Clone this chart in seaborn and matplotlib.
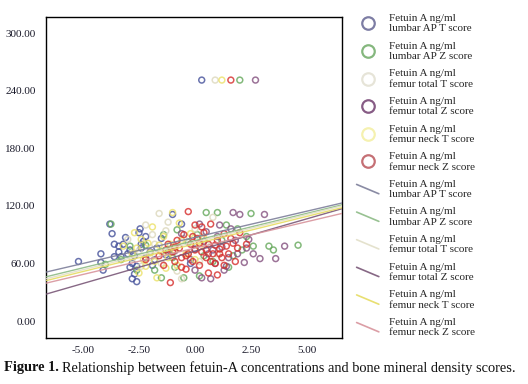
import matplotlib
matplotlib.use("Agg")
from matplotlib import pyplot as plt
from matplotlib.lines import Line2D
from matplotlib.legend_handler import HandlerLine2D
import pandas as pd
import seaborn as sns

# series names (legend labels)
series = ["lumbar AP T score", "lumbar AP Z score", "femur total T score",
          "femur total Z score", "femur neck T score", "femur neck Z score"]

# scatter colours / line colours, same order as series
point_colors = ["#44509a", "#64a85a", "#dcd8bc", "#83507e", "#ece168", "#d62c2a"]
line_colors = ["#7d7f9a", "#8dbb86", "#e2dfc8", "#7a5878", "#e6dc62", "#d8949c"]

# bone score (x) and fetuin A ng/ml (y)
lumbar_t_x = [-5.2, -4.2, -4.1, -4.2, -3.8, -3.7, -3.6, -3.4, -3.3, -3.2, -3.0,
              -2.9, -2.8, -2.8, -2.7, -2.6, -2.5, -2.45, -2.4, -2.3, -2.2, -2.0,
              -1.9, -1.7, -1.5, -1.3, -1.0, -0.6, 0.3, -0.2, 0.0, -3.6, -2.9,
              -2.6, -3.1, -2.2, -1.8, -3.4, -2.7, -2.4]
lumbar_t_y = [62, 70, 53, 61, 101, 91, 80, 78, 67, 80, 70,
              74, 60, 44, 49, 57, 92, 96, 76, 83, 66, 72,
              58, 76, 86, 69, 111, 101, 251, 60, 75, 67, 56,
              41, 87, 88, 64, 72, 68, 80]

lumbar_z_x = [-3.75, -4.0, -2.6, -1.8, -1.5, -1.4, -0.9, -0.5, 0.2, 0.5, 1.0,
              1.4, 1.9, 2.5, 2.6, 3.3, 3.5, 4.6, -2.2, -1.2, -0.3, 0.4, 0.8,
              1.2, 1.7, 2.1, 2.0, -0.8, -2.9, -1.0, 0.1, 1.5, 2.3, -3.3]
lumbar_z_y = [101, 59, 53, 53, 45, 90, 56, 45, 47, 113, 113,
              100, 96, 112, 78, 78, 74, 79, 79, 72, 82, 68, 62,
              84, 68, 74, 251, 95, 78, 66, 90, 56, 88, 64]

total_t_x = [-3.0, -2.5, -2.2, -2.0, -1.8, -1.5, -1.3, -1.0, -0.8, -0.5, -0.3,
             0.0, 0.2, 0.5, 0.8, 1.0, -1.6, -2.4, -0.6, 0.9, -1.2, 0.3, -2.8,
             -1.9]
total_t_y = [85, 73, 100, 66, 80, 60, 94, 77, 52, 86, 70,
             96, 62, 80, 108, 70, 112, 57, 44, 251, 103, 88, 65,
             90]

total_z_x = [-0.6, 0.0, 0.2, 0.4, 0.6, 0.7, 0.9, 1.0, 1.2, 1.3, 1.5, 1.6, 1.7,
             1.8, 1.9, 2.0, 2.2, 2.3, 2.6, 2.9, 3.1, 3.6, 4.0, 2.7, 0.3, 1.1,
             -0.2, 0.8, 1.4, 2.4, -0.9, 0.5]
total_z_y = [91, 53, 101, 83, 70, 44, 60, 88, 77, 53, 66, 96, 113,
             84, 70, 111, 61, 76, 70, 65, 111, 65, 78, 251, 45, 100,
             64, 74, 57, 85, 73, 93]

neck_t_x = [-3.2, -2.8, -2.6, -2.4, -2.3, -2.1, -2.0, -1.9, -1.8, -1.6, -1.5,
            -1.4, -1.2, -1.1, -1.0, -0.9, -0.8, -0.6, -0.4, -0.2, 0.0, 0.2,
            -2.5, -1.7, 1.2, -2.7, -1.3, -0.7, 0.4, -2.2]
neck_t_y = [78, 70, 76, 85, 64, 81, 71, 98, 62, 79, 72,
            88, 66, 80, 113, 74, 58, 84, 70, 91, 64, 77,
            50, 45, 251, 92, 55, 102, 86, 57]

neck_z_x = [-1.6, -1.4, -1.2, -1.1, -1.0, -0.9, -0.8, -0.7, -0.6, -0.5, -0.4,
            -0.3, -0.2, -0.1, 0.0, 0.0, 0.1, 0.2, 0.3, 0.4, 0.5, 0.6, 0.7,
            0.8, 0.9, 1.0, 1.1, 1.2, 1.3, 1.4, 1.5, 1.6, 1.8, 1.9, 2.0, 2.3,
            -0.3, 1.6, -2.2, 0.6, 1.0, -0.6, 0.3, 1.3, -0.9, -0.4, 0.2, 0.5,
            0.9, 1.1, -1.3, -0.1, 0.7, 1.7]
neck_z_y = [68, 58, 80, 40, 72, 62, 84, 76, 66, 90, 54,
            70, 80, 62, 100, 74, 86, 58, 72, 92, 66, 80, 101,
            70, 60, 84, 75, 66, 91, 78, 70, 86, 62, 76, 92, 80,
            114, 251, 64, 50, 48, 56, 98, 58, 77, 68, 81, 74,
            79, 70, 74, 88, 62, 81]

# fit lines (intercept, slope)
line_intercepts = [87.2, 83.8, 82.2, 72.8, 80.3, 76.0]
line_slopes = [5.45, 5.68, 5.75, 6.74, 5.75, 5.5]

xs = [lumbar_t_x, lumbar_z_x, total_t_x, total_z_x, neck_t_x, neck_z_x]
ys = [lumbar_t_y, lumbar_z_y, total_t_y, total_z_y, neck_t_y, neck_z_y]

df = pd.concat([pd.DataFrame({"score": x, "fetuin": y, "series": s})
                for x, y, s in zip(xs, ys, series)], ignore_index=True)


class SlantedLineHandler(HandlerLine2D):
    # SPSS-style legend entries: short line going down to the right
    def create_artists(self, legend, orig_handle, xdescent, ydescent,
                       width, height, fontsize, trans):
        line = Line2D([-xdescent, -xdescent + width],
                      [height * 1.1, -height * 0.1],
                      color=orig_handle.get_color(),
                      lw=orig_handle.get_linewidth(), alpha=0.9)
        line.set_transform(trans)
        return [line]


sns.set_style("white")
plt.rcParams["font.family"] = ["Liberation Serif", "DejaVu Serif"]

fig = plt.figure(figsize=(5.28, 3.84), dpi=100)
ax = fig.add_axes([0.0871, 0.1198, 0.5606, 0.8359])

for s, c in zip(series, point_colors):
    sub = df[df["series"] == s]
    sns.scatterplot(data=sub, x="score", y="fetuin", ax=ax, s=18,
                    linewidth=1.1, legend=False, zorder=2)
    coll = ax.collections[-1]
    coll.set_facecolor("none")
    coll.set_edgecolor(c)
    coll.set_alpha(0.8)

for b, m, c in zip(line_intercepts, line_slopes, line_colors):
    ax.axline((0, b), slope=m, color=c, lw=1.0, alpha=0.9, zorder=3)

ax.set_xlim(-6.65, 6.56)
ax.set_ylim(-17.7, 316.7)
ax.set_xticks([-5, -2.5, 0, 2.5, 5])
ax.set_yticks([0, 60, 120, 180, 240, 300])
ax.xaxis.set_major_formatter(matplotlib.ticker.FormatStrFormatter("%.2f"))
ax.yaxis.set_major_formatter(matplotlib.ticker.FormatStrFormatter("%.2f"))
ax.set_xlabel("")
ax.set_ylabel("")
ax.tick_params(axis="both", labelsize=8, length=4, width=1,
               direction="out", colors="black", labelcolor="#1a1a2a")
ax.tick_params(axis="x", length=0, pad=6)
for sp in ax.spines.values():
    sp.set_visible(True)
    sp.set_color("black")
    sp.set_linewidth(1.0)

# legend: circles for points, slanted lines for fits
handles, labels = [], []
legend_point_colors = ["#6f6f9a", "#78b070", "#e4e2d4", "#7a4a78", "#f4f0a8", "#bf6066"]
for s, c in zip(series, legend_point_colors):
    handles.append(Line2D([], [], ls="none", marker="o", markersize=9,
                          markerfacecolor="none", markeredgecolor=c,
                          markeredgewidth=1.6, alpha=0.9))
    labels.append("Fetuin A ng/ml\n" + s)
for s, c in zip(series, line_colors):
    handles.append(Line2D([], [], color=c, lw=1.2))
    labels.append("Fetuin A ng/ml\n" + s)

fig.legend(handles, labels, loc="upper left", bbox_to_anchor=(0.667, 0.975),
           frameon=False, fontsize=8, handlelength=2.0, handletextpad=0.9,
           labelspacing=0.74, borderaxespad=0,
           handler_map={handles[6 + i]: SlantedLineHandler() for i in range(6)})

# caption with bold "Figure 1."
renderer = fig.canvas.get_renderer()
t1 = fig.text(0.008, 0.042, "Figure 1.", fontsize=10.4, fontweight="bold",
              va="center", ha="left", color="#111111")
bb = t1.get_window_extent(renderer=renderer)
x2 = (bb.x1 + 3) / fig.bbox.width
fig.text(x2, 0.042, "Relationship between fetuin-A concentrations and bone "
         "mineral density scores.", fontsize=10.4, va="center", ha="left",
         color="#111111")

fig.savefig("out.png", dpi=100)
